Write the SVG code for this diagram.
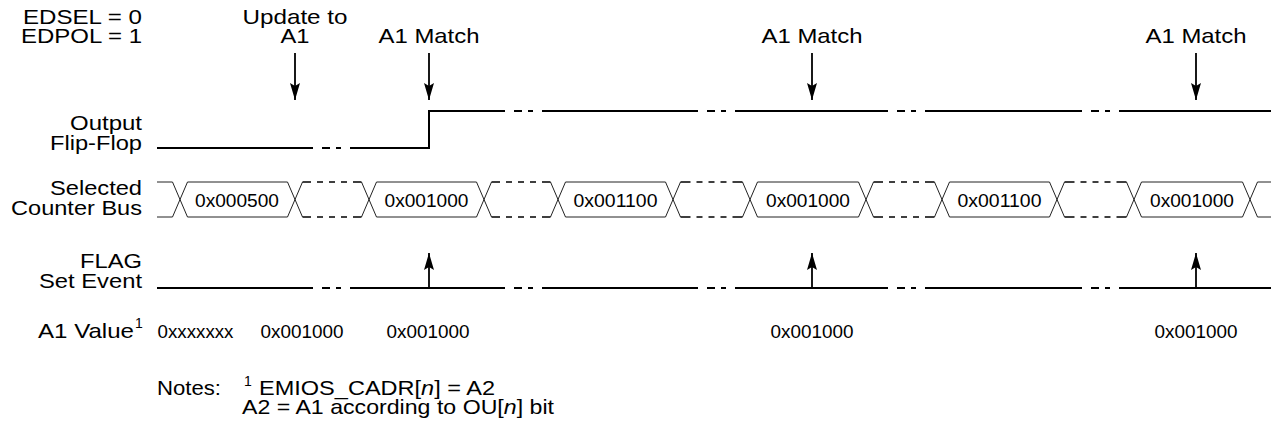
<svg xmlns="http://www.w3.org/2000/svg" width="1273" height="428" viewBox="0 0 1273 428">
<style>
text{font-family:"Liberation Sans",Arial,sans-serif;fill:#000}
.lb{font-size:21px;text-anchor:end}
.tl{font-size:21px;text-anchor:end}
.tp{font-size:21px;text-anchor:middle}
.val{font-size:18.5px;text-anchor:middle}
.nt{font-size:21px}
.sup{font-size:14px}
.sig{fill:none;stroke:#000;stroke-width:2}
.bus{fill:none;stroke:#222;stroke-width:1}
.dash{fill:none;stroke:#000;stroke-width:1.6}
.arr{stroke:#000;stroke-width:1.8;fill:none}
</style>
<defs>
<marker id="ah" viewBox="0 0 17 10" refX="17" refY="5" markerWidth="17" markerHeight="10" markerUnits="userSpaceOnUse" orient="auto">
<path d="M0,0 L17,5 L0,10 L3,5 Z" fill="#000"/>
</marker>
</defs>
<rect width="1273" height="428" fill="#fff"/>

<g id="mode">
<text class="tl" x="142" y="24" textLength="119" lengthAdjust="spacingAndGlyphs">EDSEL = 0</text>
<text class="tl" x="142" y="43" textLength="121" lengthAdjust="spacingAndGlyphs">EDPOL = 1</text>
</g>

<g id="event-labels">
<text class="tp" x="295" y="24" textLength="105" lengthAdjust="spacingAndGlyphs">Update to</text>
<text class="tp" x="295" y="43" textLength="29" lengthAdjust="spacingAndGlyphs">A1</text>
<text class="tp" x="429" y="43" textLength="101" lengthAdjust="spacingAndGlyphs">A1 Match</text>
<text class="tp" x="812" y="43" textLength="101" lengthAdjust="spacingAndGlyphs">A1 Match</text>
<text class="tp" x="1196" y="43" textLength="101" lengthAdjust="spacingAndGlyphs">A1 Match</text>
</g>

<g id="output-flip-flop">
<text class="lb" x="142" y="130" textLength="72" lengthAdjust="spacingAndGlyphs">Output</text>
<text class="lb" x="142" y="150" textLength="92" lengthAdjust="spacingAndGlyphs">Flip-Flop</text>
<path class="sig" d="M157,148H313M322,148H330M336,148H341M350,148H429V111H505M514,111H522M528,111H533M542,111H698M707,111H715M721,111H726M735,111H888M897,111H905M911,111H916M925,111H1082M1091,111H1099M1105,111H1110M1119,111H1271"/>
</g>

<g id="selected-counter-bus">
<text class="lb" x="142" y="195" textLength="92" lengthAdjust="spacingAndGlyphs">Selected</text>
<text class="lb" x="142" y="215" textLength="131" lengthAdjust="spacingAndGlyphs">Counter Bus</text>
<path class="bus" d="M157,182H172.5L187.5,217H287.5L302.5,182M157,217H172.5L187.5,182H287.5L302.5,217
M361.5,182L376.5,217H476.5L491.5,182M361.5,217L376.5,182H476.5L491.5,217
M550.5,182L565.5,217H665.5L680.5,182M550.5,217L565.5,182H665.5L680.5,217
M742.5,182L757.5,217H858.5L873.5,182M742.5,217L757.5,182H858.5L873.5,217
M934.5,182L949.5,217H1049.5L1064.5,182M934.5,217L949.5,182H1049.5L1064.5,217
M1126.5,182L1141.5,217H1242.5L1257.5,182H1271M1126.5,217L1141.5,182H1242.5L1257.5,217H1271"/>
<path class="dash" d="M302.5,182H311M317,182H323M329,182H335M341,182H347M353,182H361.5M302.5,217H311M317,217H323M329,217H335M341,217H347M353,217H361.5
M491.5,182H500M506,182H512M518,182H524M530,182H536M542,182H550.5M491.5,217H500M506,217H512M518,217H524M530,217H536M542,217H550.5
M680.5,182H690.5M696.5,182H702.5M708.5,182H714.5M720.5,182H726.5M732.5,182H742.5M680.5,217H690.5M696.5,217H702.5M708.5,217H714.5M720.5,217H726.5M732.5,217H742.5
M873.5,182H883M889,182H895M901,182H907M913,182H919M925,182H934.5M873.5,217H883M889,217H895M901,217H907M913,217H919M925,217H934.5
M1064.5,182H1074.5M1080.5,182H1086.5M1092.5,182H1098.5M1104.5,182H1110.5M1116.5,182H1126.5M1064.5,217H1074.5M1080.5,217H1086.5M1092.5,217H1098.5M1104.5,217H1110.5M1116.5,217H1126.5"/>
<text class="val" x="237" y="206.5" textLength="84" lengthAdjust="spacingAndGlyphs">0x000500</text>
<text class="val" x="426.5" y="206.5" textLength="84" lengthAdjust="spacingAndGlyphs">0x001000</text>
<text class="val" x="615.5" y="206.5" textLength="84" lengthAdjust="spacingAndGlyphs">0x001100</text>
<text class="val" x="808" y="206.5" textLength="84" lengthAdjust="spacingAndGlyphs">0x001000</text>
<text class="val" x="999.5" y="206.5" textLength="84" lengthAdjust="spacingAndGlyphs">0x001100</text>
<text class="val" x="1192" y="206.5" textLength="84" lengthAdjust="spacingAndGlyphs">0x001000</text>
</g>

<g id="flag-set-event">
<text class="lb" x="142" y="268" textLength="62" lengthAdjust="spacingAndGlyphs">FLAG</text>
<text class="lb" x="142" y="288" textLength="103" lengthAdjust="spacingAndGlyphs">Set Event</text>
<path class="sig" d="M157,288H313M322,288H330M336,288H341M350,288H505M514,288H522M528,288H533M542,288H698M707,288H715M721,288H726M735,288H888M897,288H905M911,288H916M925,288H1082M1091,288H1099M1105,288H1110M1119,288H1271"/>
</g>

<g id="a1-value">
<text class="lb" x="134" y="338" textLength="96" lengthAdjust="spacingAndGlyphs">A1 Value</text>
<text class="sup" x="135" y="328">1</text>
<text class="val" x="195.5" y="338" textLength="76" lengthAdjust="spacingAndGlyphs">0xxxxxxx</text>
<text class="val" x="302" y="338" textLength="83" lengthAdjust="spacingAndGlyphs">0x001000</text>
<text class="val" x="428" y="338" textLength="83" lengthAdjust="spacingAndGlyphs">0x001000</text>
<text class="val" x="812" y="338" textLength="83" lengthAdjust="spacingAndGlyphs">0x001000</text>
<text class="val" x="1196" y="338" textLength="83" lengthAdjust="spacingAndGlyphs">0x001000</text>
</g>

<g id="connectors">
<line class="arr" x1="295" y1="53" x2="295" y2="100" marker-end="url(#ah)"/>
<line class="arr" x1="429" y1="53" x2="429" y2="100" marker-end="url(#ah)"/>
<line class="arr" x1="812" y1="53" x2="812" y2="100" marker-end="url(#ah)"/>
<line class="arr" x1="1196" y1="53" x2="1196" y2="100" marker-end="url(#ah)"/>
<line class="arr" x1="429" y1="288" x2="429" y2="253" marker-end="url(#ah)"/>
<line class="arr" x1="812" y1="288" x2="812" y2="253" marker-end="url(#ah)"/>
<line class="arr" x1="1196" y1="288" x2="1196" y2="253" marker-end="url(#ah)"/>
</g>

<g id="notes">
<text class="nt" x="157" y="395" textLength="64" lengthAdjust="spacingAndGlyphs">Notes:</text>
<text class="sup" x="244" y="386">1</text>
<text class="nt" x="259" y="395" textLength="236" lengthAdjust="spacingAndGlyphs">EMIOS_CADR[<tspan font-style="italic">n</tspan>] = A2</text>
<text class="nt" x="242" y="414" textLength="312" lengthAdjust="spacingAndGlyphs">A2 = A1 according to OU[<tspan font-style="italic">n</tspan>] bit</text>
</g>
</svg>
